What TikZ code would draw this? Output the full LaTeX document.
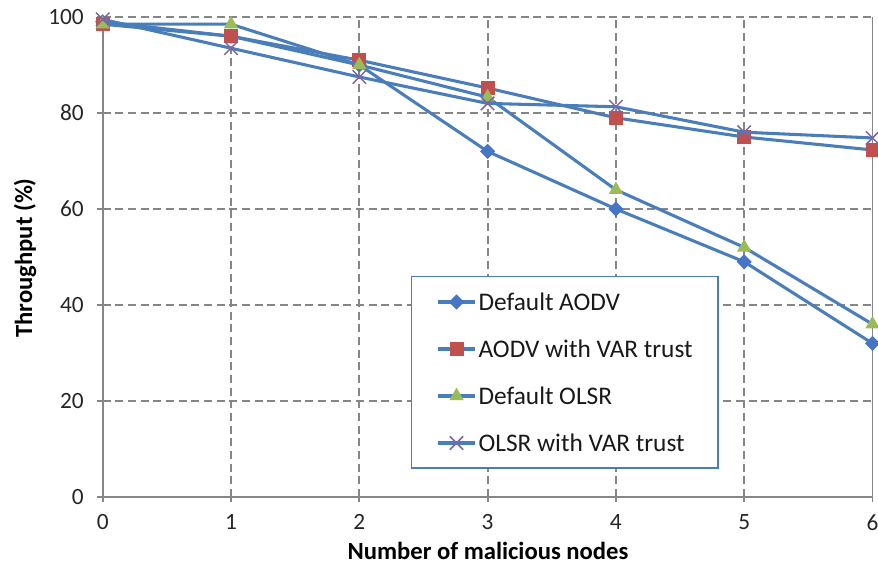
\documentclass[tikz,border=0pt]{standalone}
\usepackage{fontspec}
\setmainfont{Carlito}
\usetikzlibrary{positioning,shapes.geometric,shapes.misc}

\definecolor{gridgray}{RGB}{134,134,134}
\definecolor{lineblue}{RGB}{74,126,187}
\definecolor{mkblue}{RGB}{69,117,196}
\definecolor{mkred}{RGB}{192,80,77}
\definecolor{mkgreen}{RGB}{155,187,89}
\definecolor{mkpurple}{RGB}{128,100,162}

\tikzset{
  griddash/.style={gridgray, line width=1.4pt, dash pattern=on 6pt off 3.5pt},
  axisline/.style={gridgray, line width=1.4pt},
  serie/.style={lineblue, line width=2.3pt, line join=round},
  mkdiamond/.style={diamond, fill=mkblue, inner sep=0pt, minimum size=11.5pt},
  mksquare/.style={rectangle, fill=mkred, inner sep=0pt, minimum size=10.5pt},
  mktri/.style={regular polygon, regular polygon sides=3, fill=mkgreen, inner sep=0pt, minimum size=12.5pt},
  mkcross/.style={cross out, draw=mkpurple, line width=1.1pt, inner sep=0pt, minimum size=9pt},
  ticklabel/.style={font=\fontsize{17.5}{20}\selectfont, text=black!85, inner sep=1pt},
  axistitle/.style={font=\fontsize{18.5}{22}\selectfont\bfseries, inner sep=0pt},
  legtext/.style={font=\fontsize{19}{22}\selectfont, text=black!90, inner sep=0pt, anchor=west}
}

\begin{document}
\begin{tikzpicture}[x=0.75pt, y=-0.75pt]

          \useasboundingbox (0,0) rectangle (878,565);

          % Plot area, in data units
          \begin{scope}[shift={(102.7,497)}, x=96.225pt, y=3.6pt]

              % Grid lines
              \foreach \k in {1,...,5}
                  \draw[griddash] (\k,0) -- (\k,100);
              \foreach \v in {20,40,...,100}
                  \draw[griddash] (0,\v) -- (6,\v);

              % Axes and frame
              \draw[axisline] (0,100) -- (0,0) -- (6,0) -- (6,100);
              \foreach \k in {0,...,6} {
                  \draw[axisline] (\k,0) -- ++(0pt,-4pt);
                  \node[ticklabel, anchor=north] (xl\k) at ([yshift=-12pt]\k,0) {\k};
              }
              \foreach \v in {0,20,...,100} {
                  \draw[axisline] (0,\v) -- ++(-4.5pt,0pt);
                  \node[ticklabel, anchor=east] (yl\v) at ([xshift=-13pt]0,\v) {\v};
              }

              % Series points
              \foreach \i/\a/\b/\c/\d in {0/99/98.5/98.5/99.5, 1/96/96/98.5/93.5,
                                         2/90/91/90/87.5, 3/72/85.2/83.3/82,
                                         4/60/79/64/81.3, 5/49/75/52/76, 6/32/72.3/36/74.8} {
                  \coordinate (ad\i) at (\i,\a);
                  \coordinate (av\i) at (\i,\b);
                  \coordinate (ol\i) at (\i,\c);
                  \coordinate (ov\i) at (\i,\d);
              }

              % Default AODV
              \draw[serie] (ad0) -- (ad1) -- (ad2) -- (ad3) -- (ad4) -- (ad5) -- (ad6);
              \foreach \i in {0,...,6} \node[mkdiamond] (mad\i) at (ad\i) {};

              % AODV with VAR trust
              \draw[serie] (av0) -- (av1) -- (av2) -- (av3) -- (av4) -- (av5) -- (av6);
              \foreach \i in {0,...,6} \node[mksquare] (mav\i) at (av\i) {};

              % Default OLSR
              \draw[serie] (ol0) -- (ol1) -- (ol2) -- (ol3) -- (ol4) -- (ol5) -- (ol6);
              \foreach \i in {0,...,6} \node[mktri] (mol\i) at (ol\i) {};

              % OLSR with VAR trust
              \draw[serie] (ov0) -- (ov1) -- (ov2) -- (ov3) -- (ov4) -- (ov5) -- (ov6);
              \foreach \i in {0,...,6} \node[mkcross] (mov\i) at (ov\i) {};

          \end{scope}

          % Axis titles
          \node[axistitle] (xtitle) at (488,551) {Number of malicious nodes};
          \node[axistitle, rotate=90] (ytitle) at (25,258) {Throughput (\%)};

          % Legend
          \draw[lineblue, fill=white, line width=0.9pt] (411.7,276.7) rectangle (718,468);
          \foreach \n/\t/\m [count=\j] in {lad/Default AODV/mkdiamond, lav/AODV with VAR trust/mksquare,
                                          lol/Default OLSR/mktri, lov/OLSR with VAR trust/mkcross} {
              \coordinate (\n s) at (438,255+47*\j);
              \coordinate (\n e) at (475,255+47*\j);
              \draw[serie] (\n s) -- (\n e);
              \node[\m] (\n m) at (456.5,255+47*\j) {};
              \node[legtext, right=2.5pt of \n e] (\n t) {\t};
          }

\end{tikzpicture}
\end{document}
